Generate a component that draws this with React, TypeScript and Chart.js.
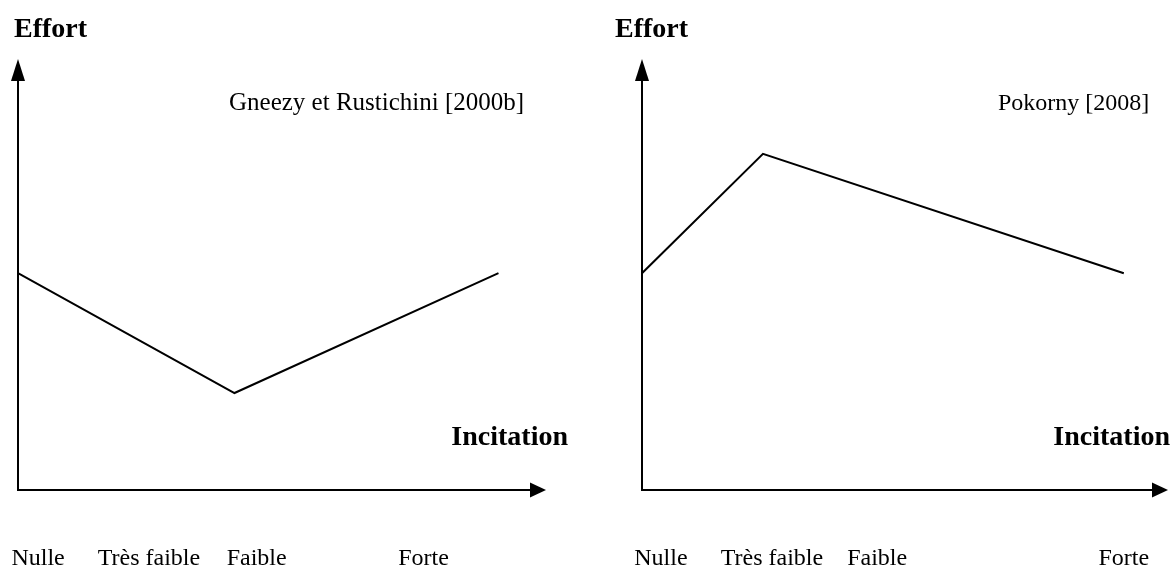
import React, { useEffect, useRef } from "react";
import { Chart, registerables } from "chart.js";

Chart.register(...registerables);

// Category tick labels (incitation levels)
const categories = ["Nulle", "Très faible", "Faible", "Forte"];

// Left panel: Gneezy et Rustichini [2000b]
const leftTitle = "Gneezy et Rustichini [2000b]";
const leftTickPos = [3.8, 24.8, 45.2, 76.8];
const leftX = [0, 41, 91];
const leftY = [50.3, 22.5, 50.3];

// Right panel: Pokorny [2008]
const rightTitle = "Pokorny [2008]";
const rightTickPos = [3.6, 24.7, 44.7, 91.6];
const rightX = [0, 23, 91.6];
const rightY = [50.3, 78, 50.3];

const yAxisLabel = "Effort";
const xAxisLabel = "Incitation";

const SERIF = "'Liberation Serif', 'Times New Roman', serif";

type PanelCfg = {
  title: string;
  titleSize: number;
  tickPos: number[];
  xs: number[];
  ys: number[];
  padLeft: number;
  padRight: number;
  effortX: number;
  titleX: number;
  incitationRight: number;
};

function makeDecor(cfg: PanelCfg) {
  return {
    id: "decor",
    afterDatasetsDraw(chart: any) {
      const ctx = chart.ctx as CanvasRenderingContext2D;
      const a = chart.chartArea;
      const xs = chart.scales.x;
      ctx.save();
      ctx.strokeStyle = "#000";
      ctx.fillStyle = "#000";
      ctx.lineWidth = 2;
      // y axis with arrow
      ctx.beginPath();
      ctx.moveTo(a.left, a.bottom + 1);
      ctx.lineTo(a.left, a.top + 20);
      ctx.stroke();
      ctx.beginPath();
      ctx.moveTo(a.left, a.top);
      ctx.lineTo(a.left - 7, a.top + 22);
      ctx.lineTo(a.left + 7, a.top + 22);
      ctx.closePath();
      ctx.fill();
      // x axis with arrow
      ctx.beginPath();
      ctx.moveTo(a.left - 1, a.bottom);
      ctx.lineTo(a.right - 14, a.bottom);
      ctx.stroke();
      ctx.beginPath();
      ctx.moveTo(a.right, a.bottom);
      ctx.lineTo(a.right - 16, a.bottom - 7.5);
      ctx.lineTo(a.right - 16, a.bottom + 7.5);
      ctx.closePath();
      ctx.fill();

      // texts
      ctx.textBaseline = "alphabetic";
      ctx.font = `bold 28px ${SERIF}`;
      ctx.textAlign = "left";
      ctx.fillText(yAxisLabel, cfg.effortX, 37);
      ctx.textAlign = "right";
      ctx.fillText(xAxisLabel, cfg.incitationRight, 445);

      ctx.font = `${cfg.titleSize}px ${SERIF}`;
      ctx.textAlign = "left";
      ctx.fillText(cfg.title, cfg.titleX, 110);

      ctx.font = `24px ${SERIF}`;
      ctx.textAlign = "center";
      cfg.tickPos.forEach((v, i) => {
        ctx.fillText(categories[i], xs.getPixelForValue(v), 565);
      });
      ctx.restore();
    },
  };
}

function Panel({ cfg, left }: { cfg: PanelCfg; left: number }) {
  const ref = useRef<HTMLCanvasElement | null>(null);
  useEffect(() => {
    if (!ref.current) return;
    const chart = new Chart(ref.current, {
      type: "line",
      data: {
        datasets: [
          {
            data: cfg.xs.map((x, i) => ({ x, y: cfg.ys[i] })),
            borderColor: "#000",
            borderWidth: 2,
            pointRadius: 0,
            tension: 0,
            fill: false,
          },
        ],
      },
      options: {
        animation: false,
        responsive: false,
        events: [],
        layout: {
          padding: { left: cfg.padLeft, right: cfg.padRight, top: 59, bottom: 77 },
        },
        plugins: { legend: { display: false }, title: { display: false }, tooltip: { enabled: false } },
        scales: {
          x: { type: "linear", min: 0, max: 100, display: false },
          y: { type: "linear", min: 0, max: 100, display: false },
        },
      },
      plugins: [makeDecor(cfg)],
    });
    return () => chart.destroy();
  }, [cfg]);
  return (
    <canvas
      ref={ref}
      width={585}
      height={567}
      style={{ position: "absolute", left, top: 0, width: 585, height: 567 }}
    />
  );
}

const leftCfg: PanelCfg = {
  title: leftTitle,
  titleSize: 25,
  tickPos: leftTickPos,
  xs: leftX,
  ys: leftY,
  padLeft: 18,
  padRight: 39,
  effortX: 14,
  titleX: 229,
  incitationRight: 568,
};

const rightCfg: PanelCfg = {
  title: rightTitle,
  titleSize: 24,
  tickPos: rightTickPos,
  xs: rightX,
  ys: rightY,
  padLeft: 57,
  padRight: 2,
  effortX: 30,
  titleX: 413,
  incitationRight: 585,
};

export default function App() {
  return (
    <div style={{ position: "fixed", left: 0, top: 0, width: 1170, height: 567, background: "#fff" }}>
      <Panel cfg={leftCfg} left={0} />
      <Panel cfg={rightCfg} left={585} />
    </div>
  );
}
